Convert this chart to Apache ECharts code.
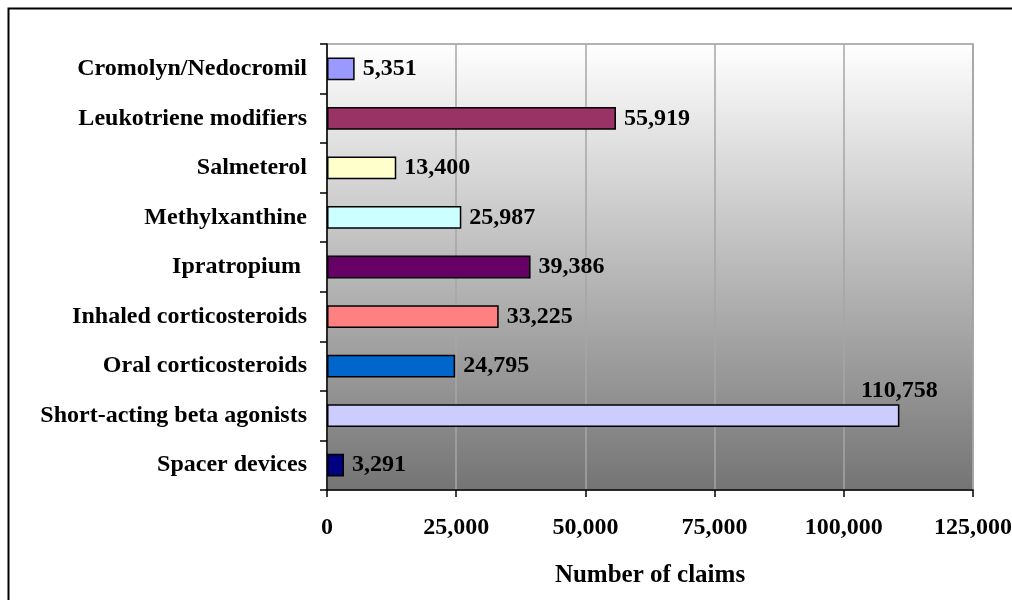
<!DOCTYPE html>
<html>
<head>
<meta charset="utf-8">
<script src="https://cdn.jsdelivr.net/npm/echarts@6/dist/echarts.min.js"></script>
<style>
    html, body { margin: 0; padding: 0; background: #fff; }
    #chart { width: 1012px; height: 600px; }
</style>
</head>
<body>
<div id="chart"></div>
<script>
// categories, bottom to top
const categories = [
    'Spacer devices',
    'Short-acting beta agonists',
    'Oral corticosteroids',
    'Inhaled corticosteroids',
    'Ipratropium ',
    'Methylxanthine',
    'Salmeterol',
    'Leukotriene modifiers',
    'Cromolyn/Nedocromil'
];
const claims = [3291, 110758, 24795, 33225, 39386, 25987, 13400, 55919, 5351];
const barColors = ['#000080', '#ccccff', '#0066cc', '#ff8080', '#660066', '#ccffff', '#ffffcc', '#993366', '#9999ff'];
const xTicks = { min: 0, max: 125000, interval: 25000 };

const font = '"Liberation Serif", "Times New Roman", serif';
const fmt = v => Number(v).toLocaleString('en-US');

let chartObj = echarts.init(document.getElementById('chart'));

//柱子数据
let barData = claims.map((v, i) => {
    let item = { value: v, itemStyle: { color: barColors[i] } };
    // 最长的一根标签放在上面
    if (v > 100000) {
        item.label = { position: ['100%', 0], align: 'center', verticalAlign: 'bottom', distance: 0, offset: [0, -1] };
    }
    return item;
});

let options = {
    animation: false,
    graphic: [{
        type: 'rect',
        shape: { x: 8.5, y: 8.5, width: 1100, height: 700 },
        style: { fill: 'none', stroke: '#000', lineWidth: 2 },
        silent: true
    }],
    grid: {
        left: 327, top: 44, right: 39, bottom: 110,
        outerBoundsMode: 'none',
        containLabel: false,
        show: true,
        borderColor: '#999',
        borderWidth: 1.5,
        backgroundColor: new echarts.graphic.LinearGradient(0, 0, 0, 1, [
            { offset: 0, color: '#ffffff' },
            { offset: 1, color: '#747474' }
        ])
    },
    xAxis: {
        type: 'value',
        min: xTicks.min,
        max: xTicks.max,
        interval: xTicks.interval,
        name: 'Number of claims',
        nameLocation: 'middle',
        nameGap: 73,
        nameTextStyle: { fontFamily: font, fontWeight: 'bold', fontSize: 25, color: '#000' },
        axisLine: { show: true, lineStyle: { color: '#000', width: 1.5 } },
        axisTick: { show: true, length: 7, lineStyle: { color: '#000', width: 1.5 } },
        axisLabel: {
            margin: 26,
            hideOverlap: false,
            fontFamily: font, fontWeight: 'bold', fontSize: 24, color: '#000',
            formatter: fmt
        },
        splitLine: { show: true, lineStyle: { color: '#a6a6a6', width: 1.5 } }
    },
    yAxis: {
        type: 'category',
        data: categories,
        axisLine: { show: true, lineStyle: { color: '#000', width: 1.5 } },
        axisTick: { show: true, length: 7, lineStyle: { color: '#000', width: 1.5 } },
        axisLabel: {
            margin: 20,
            fontFamily: font, fontWeight: 'bold', fontSize: 24, color: '#000'
        },
        splitLine: { show: false }
    },
    series: [{
        type: 'bar',
        data: barData,
        barWidth: '46%',
        itemStyle: { borderColor: '#000', borderWidth: 1.5 },
        label: {
            show: true,
            position: 'right',
            distance: 8,
            fontFamily: font, fontWeight: 'bold', fontSize: 24, color: '#000',
            formatter: p => fmt(p.value)
        }
    }]
};
chartObj.setOption(options);
</script>
</body>
</html>
